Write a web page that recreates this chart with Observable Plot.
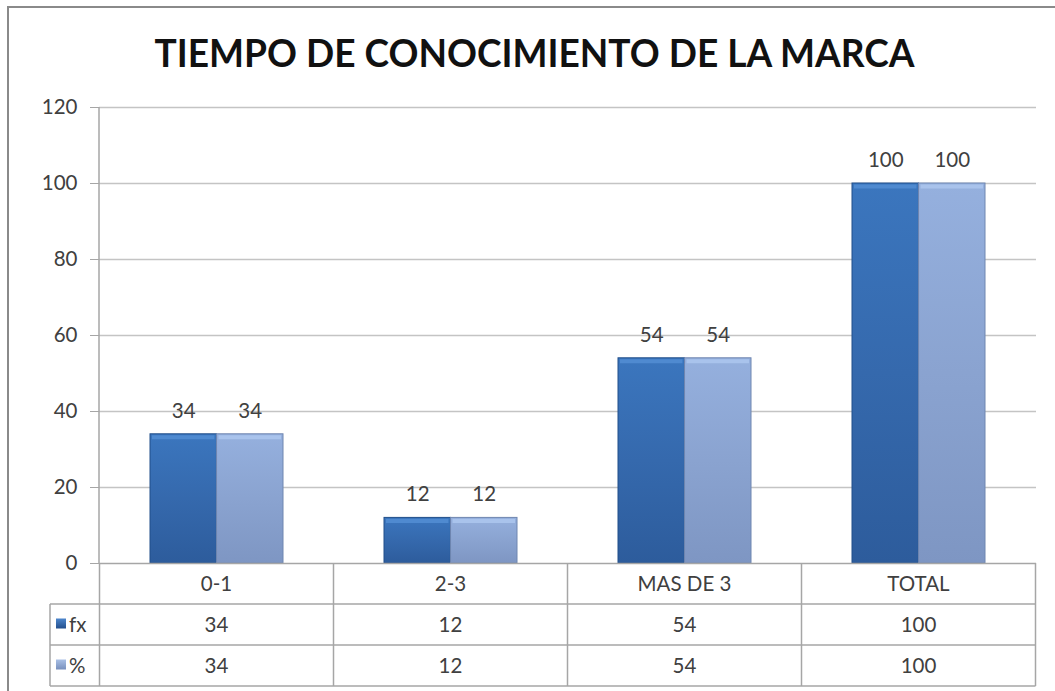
<!DOCTYPE html>
<html>
<head>
<meta charset="utf-8">
<script src="https://cdn.jsdelivr.net/npm/d3@7"></script>
<script src="https://cdn.jsdelivr.net/npm/@observablehq/plot@0.6"></script>
<style>
  html, body { margin: 0; padding: 0; background: #fff; }
  #wrap { position: relative; width: 1055px; height: 691px; overflow: hidden; background: #fff; font-family: Lato, "Open Sans", sans-serif; }
  #title { position: absolute; left: 0; top: 33px; width: 1070px; text-align: center; font-size: 38px; line-height: 1; color: #111; }
  #title span { display: inline-block; font-weight: 700; transform-origin: 50% 50%; white-space: nowrap; }
  #chart { position: absolute; left: 0; top: 90px; }
  .frameL { position: absolute; left: 7px; top: 6px; width: 2px; height: 700px; background: #8a8a8a; }
  .frameT { position: absolute; left: 7px; top: 6px; width: 1100px; height: 2px; background: #8a8a8a; }
  svg [aria-label="y-axis tick"] path { stroke: #a6a6a6; }
</style>
</head>
<body>
<div id="wrap">
  <div id="title"><span>TIEMPO DE CONOCIMIENTO DE LA MARCA</span></div>
  <div id="chart"></div>
  <div class="frameL"></div>
  <div class="frameT"></div>
</div>
<script>
const categories = ["0-1", "2-3", "MAS DE 3", "TOTAL"];
const fxValues = [34, 12, 54, 100];
const pctValues = [34, 12, 54, 100];
const seriesNames = ["fx", "%"];
const yTicks = [0, 20, 40, 60, 80, 100, 120];

const rows = categories.map((c, i) => ({cat: c, fx: fxValues[i], pct: pctValues[i]}));

// fit title width like the reference (condensed heading)
const tspan = document.querySelector("#title span");
const tw = tspan.getBoundingClientRect().width;
tspan.style.transform = `scaleX(${760 / tw})`;

const W = 1055, H = 601;
const mL = 99, mR = 19, mT = 17, mB = 128;
const pIn = 0.432, pOut = 0.216;
const bw = (W - mL - mR) / categories.length * (1 - pIn);
const half = bw / 2;
const FS = 20.5;

const txt = {fontFamily: "Lato", fill: "#404040", fontSize: FS};

const chart = Plot.plot({
  width: W, height: H,
  marginLeft: mL, marginRight: mR, marginTop: mT, marginBottom: mB,
  style: {fontFamily: "Lato, sans-serif", fontSize: FS + "px", color: "#404040", background: "transparent", overflow: "visible"},
  x: {domain: categories, paddingInner: pIn, paddingOuter: pOut, axis: null},
  y: {domain: [0, 120], ticks: yTicks, tickSize: 9, tickPadding: 13, label: null, tickFormat: d => d},
  marks: [
    Plot.ruleY(yTicks.filter(t => t > 0), {stroke: "#c4c4c4", strokeWidth: 1.5}),
    Plot.barY(rows, {x: "cat", y: "fx", fill: "url(#gFx)", insetRight: half, stroke: "#214e8a", strokeWidth: 1}),
    Plot.barY(rows, {x: "cat", y: "pct", fill: "url(#gPct)", insetLeft: half, stroke: "#6f86b0", strokeWidth: 1}),
    Plot.tickY(rows, {x: "cat", y: "fx", insetRight: half + 2, insetLeft: 2, dy: 3, stroke: "#4f8ad0", strokeWidth: 4}),
    Plot.tickY(rows, {x: "cat", y: "pct", insetLeft: half + 2, insetRight: 2, dy: 3, stroke: "#a9c3ec", strokeWidth: 4}),
    Plot.ruleY([0], {stroke: "#a6a6a6", strokeWidth: 1.5}),
    Plot.text(rows, {x: "cat", y: "fx", text: d => String(d.fx), dx: -half / 2, dy: -23, ...txt}),
    Plot.text(rows, {x: "cat", y: "pct", text: d => String(d.pct), dx: half / 2, dy: -23, ...txt})
  ]
});

document.getElementById("chart").appendChild(chart);

// gradients
const svg = d3.select(chart);
const defs = svg.insert("defs", ":first-child");
function grad(id, stops, vertical) {
  const g = defs.append("linearGradient").attr("id", id)
    .attr("x1", 0).attr("y1", 0).attr("x2", vertical ? 0 : 1).attr("y2", vertical ? 1 : 0);
  stops.forEach(([o, c]) => g.append("stop").attr("offset", o).attr("stop-color", c));
}
grad("gFx", [["0", "#3b76be"], ["0.5", "#3569ad"], ["1", "#2d5c9c"]], true);
grad("gPct", [["0", "#95b0de"], ["0.5", "#8aa3d0"], ["1", "#7e96c3"]], true);
grad("gKeyFx", [["0", "#4d86cc"], ["1", "#244f8c"]], true);
grad("gKeyPct", [["0", "#a9c0e6"], ["1", "#7890bd"]], true);

// data table drawn from the scales
const xs = chart.scale("x"), ys = chart.scale("y");
const step = xs.step, bwS = xs.bandwidth;
const slotL = c => xs.apply(c) - (step - bwS) / 2;
const y0 = ys.apply(0);
const rowH = 41;
const tableLeft = 50;
const xRight = slotL(categories[categories.length - 1]) + step;
const g = svg.append("g").attr("font-family", "Lato, sans-serif").attr("font-size", FS).attr("fill", "#404040");
const lineC = "#a6a6a6";
[1, 2, 3].forEach(k => {
  g.append("line").attr("x1", tableLeft).attr("x2", xRight).attr("y1", y0 + k * rowH).attr("y2", y0 + k * rowH)
    .attr("stroke", lineC).attr("stroke-width", 1.5);
});
categories.forEach(c => {
  g.append("line").attr("x1", slotL(c)).attr("x2", slotL(c)).attr("y1", y0).attr("y2", y0 + 3 * rowH)
    .attr("stroke", lineC).attr("stroke-width", 1.5);
});
g.append("line").attr("x1", xRight).attr("x2", xRight).attr("y1", y0).attr("y2", y0 + 3 * rowH)
  .attr("stroke", lineC).attr("stroke-width", 1.5);
g.append("line").attr("x1", tableLeft).attr("x2", tableLeft).attr("y1", y0 + rowH).attr("y2", y0 + 3 * rowH)
  .attr("stroke", lineC).attr("stroke-width", 1.5);
g.append("line").attr("x1", mL).attr("x2", mL).attr("y1", ys.apply(120)).attr("y2", y0)
  .attr("stroke", lineC).attr("stroke-width", 1.5);
categories.forEach(c => {
  g.append("text").attr("x", xs.apply(c) + bwS / 2).attr("y", y0 + rowH / 2).attr("dy", "0.35em")
    .attr("text-anchor", "middle").text(c);
});
const seriesVals = [fxValues, pctValues];
const keys = ["url(#gKeyFx)", "url(#gKeyPct)"];
seriesNames.forEach((s, r) => {
  const cy = y0 + rowH * (r + 1) + rowH / 2;
  g.append("rect").attr("x", 56).attr("y", cy - 6).attr("width", 10).attr("height", 10).attr("fill", keys[r]);
  g.append("text").attr("x", 69).attr("y", cy).attr("dy", "0.35em").attr("text-anchor", "start").text(s);
  categories.forEach((c, i) => {
    g.append("text").attr("x", xs.apply(c) + bwS / 2).attr("y", cy).attr("dy", "0.35em")
      .attr("text-anchor", "middle").text(String(seriesVals[r][i]));
  });
});
</script>
</body>
</html>
